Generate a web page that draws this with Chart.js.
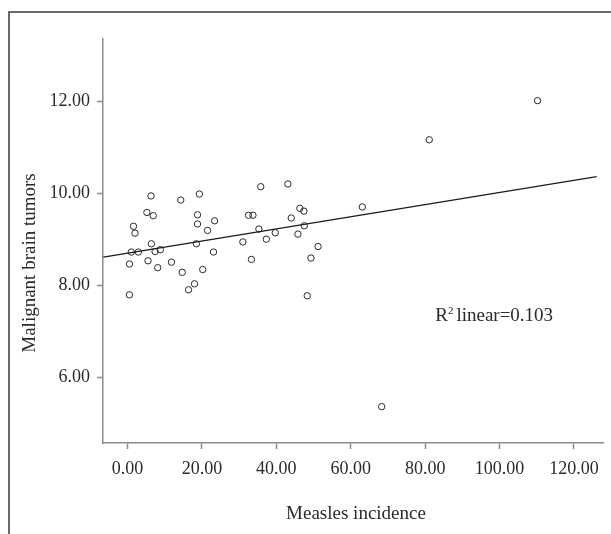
<!DOCTYPE html>
<html>
<head>
<meta charset="utf-8">
<script src="https://cdn.jsdelivr.net/npm/chart.js@4"></script>
<style>
  body { margin: 0; background: #fff; }
</style>
</head>
<body>
<canvas id="scatter" width="611" height="534"></canvas>
<script>
// values
const measles = [0.5, 0.5, 1.0, 1.6, 2.0, 2.9, 5.2, 6.3, 6.9, 6.4, 5.5, 7.4,
                 8.8, 8.1, 11.8, 14.3, 14.7, 16.4, 18.0, 18.5, 18.8, 18.8, 19.3, 21.5,
                 20.2, 23.4, 23.1, 31.0, 32.5, 33.7, 33.3, 35.8, 35.3, 37.3, 39.7, 43.1,
                 44.0, 46.3, 47.4, 47.5, 45.8, 49.3, 51.2, 48.3, 63.1, 68.3, 81.1, 110.2];
const tumors = [7.80, 8.47, 8.73, 9.29, 9.14, 8.73, 9.59, 9.95, 9.52, 8.91, 8.54, 8.74,
                8.78, 8.39, 8.51, 9.86, 8.29, 7.91, 8.04, 8.91, 9.34, 9.54, 9.99, 9.20,
                8.35, 9.41, 8.73, 8.95, 9.53, 9.53, 8.57, 10.15, 9.23, 9.01, 9.15, 10.21,
                9.47, 9.68, 9.62, 9.30, 9.12, 8.60, 8.85, 7.78, 9.71, 5.37, 11.17, 12.02];

// fit line end points
const fitX = [-6.5, 126.1];
const fitY = [8.62, 10.37];

const xTicks = [0, 20, 40, 60, 80, 100, 120];
const yTicks = [6, 8, 10, 12];

const rSquared = '0.103';
const xTitle = 'Measles incidence';
const yTitle = 'Malignant brain tumors';

const serif = '"Liberation Serif", "Times New Roman", serif';
const axisGray = '#8a8a8a';
const textColor = '#2a2a2a';

// frame, axis titles and the R² note
const extras = {
    id: 'extras',
    beforeDraw(chart) {
        const c = chart.ctx;
        c.save();
        c.strokeStyle = '#3a3a3a';
        c.lineWidth = 1.5;
        c.beginPath();
        c.moveTo(611, 12);
        c.lineTo(9, 12);
        c.lineTo(9, 534);
        c.stroke();
        c.restore();
    },
    afterDraw(chart) {
        const c = chart.ctx;
        const xs = chart.scales.x, ys = chart.scales.y;
        c.save();
        c.fillStyle = textColor;
        c.font = '19px ' + serif;
        c.textAlign = 'center';
        c.textBaseline = 'middle';
        c.fillText(xTitle, 356, 514);

        c.translate(30, 263);
        c.rotate(-Math.PI / 2);
        c.fillText(yTitle, 0, 0);
        c.restore();

        // R² label
        c.save();
        c.fillStyle = textColor;
        c.textBaseline = 'alphabetic';
        c.textAlign = 'left';
        let x = xs.getPixelForValue(82.7);
        const base = ys.getPixelForValue(7.24);
        c.font = '19px ' + serif;
        c.fillText('R', x, base);
        x += c.measureText('R').width;
        c.font = '11px ' + serif;
        c.fillText('2', x, base - 7);
        x += c.measureText('2').width + 3;
        c.font = '19px ' + serif;
        c.fillText('linear=' + rSquared, x, base);
        c.restore();
    }
};

const points = measles.map((m, i) => ({ x: m, y: tumors[i] }));
const fitLine = fitX.map((v, i) => ({ x: v, y: fitY[i] }));

new Chart(document.getElementById('scatter'), {
    type: 'scatter',
    data: {
        datasets: [
            {
                label: 'fit',
                data: fitLine,
                showLine: true,
                borderColor: '#1a1a1a',
                borderWidth: 1.2,
                pointRadius: 0,
                fill: false
            },
            {
                label: 'cases',
                data: points,
                pointRadius: 3.2,
                pointBorderWidth: 1,
                pointBorderColor: '#2a2a2a',
                pointBackgroundColor: 'rgba(255,255,255,0)'
            }
        ]
    },
    options: {
        responsive: false,
        animation: false,
        layout: { padding: { top: 39, right: 8, left: 0, bottom: 0 } },
        plugins: {
            legend: { display: false },
            tooltip: { enabled: false }
        },
        scales: {
            x: {
                type: 'linear',
                min: -6.6,
                max: 127.8,
                afterBuildTicks: (s) => { s.ticks = xTicks.map(v => ({ value: v })); },
                afterFit: (s) => { s.height = 91; },
                border: { display: true, color: axisGray, width: 1.5 },
                grid: { drawOnChartArea: false, drawTicks: true, tickLength: 6, tickColor: axisGray, tickWidth: 1.5 },
                ticks: {
                    padding: 9,
                    color: textColor,
                    font: { family: serif, size: 18 },
                    callback: (v) => Number(v).toFixed(2)
                }
            },
            y: {
                type: 'linear',
                min: 4.58,
                max: 13.36,
                afterBuildTicks: (s) => { s.ticks = yTicks.map(v => ({ value: v })); },
                afterFit: (s) => { s.width = 103; },
                border: { display: true, color: axisGray, width: 1.5 },
                grid: { drawOnChartArea: false, drawTicks: true, tickLength: 6, tickColor: axisGray, tickWidth: 1.5 },
                ticks: {
                    padding: 7,
                    color: textColor,
                    font: { family: serif, size: 18 },
                    callback: (v) => Number(v).toFixed(2)
                }
            }
        }
    },
    plugins: [extras]
});
</script>
</body>
</html>
